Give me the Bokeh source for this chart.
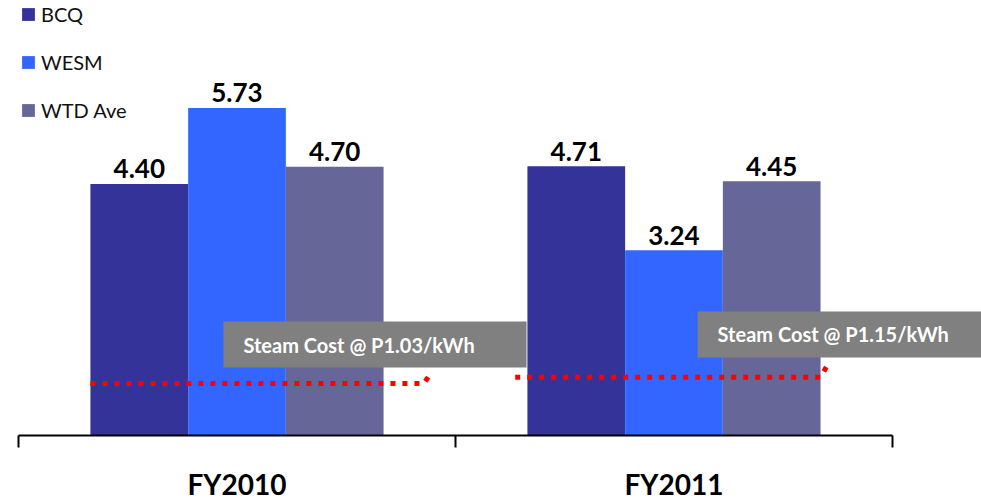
from bokeh.plotting import figure
from bokeh.models import (Range1d, LinearAxis, FixedTicker, ColumnDataSource, Label,
                          Legend, LegendItem)
from bokeh.transform import dodge
from bokeh.core.properties import value
from bokeh.embed import file_html
from bokeh.resources import INLINE

# ---------------- data ----------------
categories = ["FY2010", "FY2011"]
series = ["BCQ", "WESM", "WTD Ave"]
bcq = [4.40, 4.71]
wesm = [5.73, 3.24]
wtd_ave = [4.70, 4.45]
steam_cost = [1.03, 1.15]
steam_line_level = [0.91, 1.02]
steam_labels = ["Steam Cost  @ P1.03/kWh", "Steam Cost @ P1.15/kWh"]

# ---------------- styling / layout ----------------
colors = ["#333399", "#3366FF", "#666699"]
BAR_W = 0.2236
FONT = "Lato"
centers = [i + 0.5 for i in range(len(categories))]
n = len(categories)

p = figure(width=981, height=504, output_backend="svg", toolbar_location=None,
           x_range=Range1d(0, 2.2037), y_range=Range1d(0, 7.61),
           x_axis_location=None, y_axis_location=None,
           min_border_left=18, min_border_right=0, min_border_top=0,
           min_border_bottom=69)
p.outline_line_color = None
p.grid.visible = False
p.background_fill_color = "white"
p.border_fill_color = "white"

cols = {"BCQ": bcq, "WESM": wesm, "WTD": wtd_ave}
keys = ["BCQ", "WESM", "WTD"]
data = dict(center=centers, cat=categories)
for k in keys:
    data[k] = cols[k]
    data[k + "_lbl"] = [f"{v:.2f}" for v in cols[k]]
src = ColumnDataSource(data)

offsets = [-BAR_W, 0.0, BAR_W]
items = []
for name, k, col, off in zip(series, keys, colors, offsets):
    r = p.vbar(x=dodge("center", off, range=p.x_range), top=k, bottom=0, width=BAR_W,
               source=src, fill_color=col, line_color=None)
    p.text(x=dodge("center", off, range=p.x_range), y=k, text=k + "_lbl", source=src,
           text_font=value(FONT), text_font_style="bold", text_font_size="26px",
           text_color="black", text_align="center", text_baseline="alphabetic",
           y_offset=-15)
    items.append(LegendItem(label=name, renderers=[r]))

legend = Legend(items=items, location="top_left", orientation="vertical",
                margin=2, padding=0, spacing=24, glyph_width=16, glyph_height=16,
                label_standoff=5, label_text_font=FONT, label_text_font_size="20px",
                label_text_color="#111111", border_line_color=None,
                background_fill_alpha=0)
p.add_layout(legend)

# steam cost dotted lines with a small upward tail into the call-out box
line_start = [-1.5 * BAR_W, -1.5 * BAR_W - 0.028]
line_end = [0.427, 1.5 * BAR_W]
tail_rise = [0.21, 0.27]
xs, ys = [], []
for c, lvl, s0, e0, tr in zip(centers, steam_line_level, line_start, line_end, tail_rise):
    xs.append([c + s0, c + e0, c + e0 + 0.008, c + e0 + 0.02])
    ys.append([lvl, lvl, lvl + tr * 0.4, lvl + tr])
p.multi_line(xs=xs, ys=ys, line_color="#FF0000", line_width=5, line_dash="5 7",
             line_cap="butt", line_join="miter")

# call-out boxes
box_x = [-0.031, 0.054]
box_y = [1.59, 1.767]
box_pad_right = [47, 40]
for c, txt, bx, by, pr in zip(centers, steam_labels, box_x, box_y, box_pad_right):
    p.add_layout(Label(x=c + bx, y=by, text=txt, text_font=FONT, text_font_style="bold",
                       text_font_size="20px", text_color="white", text_align="left",
                       text_baseline="middle", background_fill_color="#808080",
                       border_line_color=None,
                       padding=dict(left=20, right=pr, top=11, bottom=11)))

# category axis: labels at centres, ticks at category boundaries
xaxis = LinearAxis(ticker=FixedTicker(ticks=centers, minor_ticks=list(range(n + 1))),
                   major_label_overrides={c: cat for c, cat in zip(centers, categories)},
                   bounds=(0, n))
xaxis.axis_line_color = "black"
xaxis.axis_line_width = 2
xaxis.major_tick_line_color = None
xaxis.major_tick_in = 0
xaxis.major_tick_out = 0
xaxis.minor_tick_line_color = "black"
xaxis.minor_tick_line_width = 2
xaxis.minor_tick_in = 0
xaxis.minor_tick_out = 12
xaxis.major_label_standoff = 19
xaxis.major_label_text_font = FONT
xaxis.major_label_text_font_style = "bold"
xaxis.major_label_text_font_size = "28px"
xaxis.major_label_text_color = "black"
p.add_layout(xaxis, "below")

open("out.html", "w").write(file_html(p, INLINE))
